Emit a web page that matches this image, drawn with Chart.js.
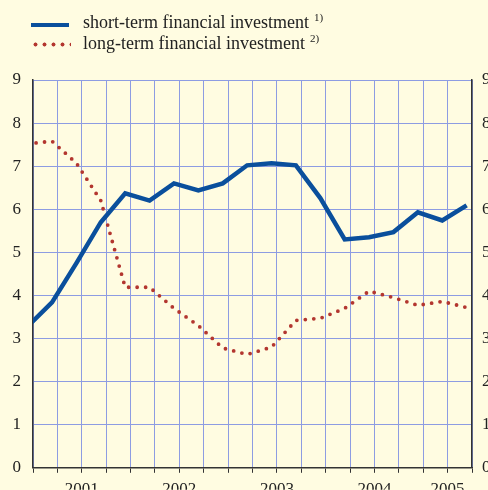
<!DOCTYPE html>
<html>
<head>
<meta charset="utf-8">
<script src="https://cdn.jsdelivr.net/npm/chart.js@4/dist/chart.umd.min.js"></script>
<style>
  html, body { margin: 0; padding: 0; background: #fffce1; }
  #wrap { position: relative; width: 488px; height: 490px; overflow: hidden; }
  #legend { position: absolute; left: 0; top: 0; font-family: "Liberation Serif", serif; font-size: 18px; color: #222; }
  .item { position: absolute; left: 31px; white-space: nowrap; }
  .item span.txt { position: absolute; left: 52px; top: -10px; }
  .item sup { font-size: 11px; vertical-align: 7px; margin-left: 5px; }
  .solid { width: 38px; height: 4px; background: #0a4f9c; }
  .dots { width: 40px; height: 5px; background: radial-gradient(circle, #b3362f 1.7px, transparent 2.3px) repeat-x; background-size: 9px 5px; }
</style>
</head>
<body>
<div id="wrap">
  <canvas id="myChart" width="488" height="490"></canvas>
  <div id="legend">
    <div class="item" style="top:23px"><div class="solid"></div><span class="txt" style="top:-12px">short-term financial investment<sup>1)</sup></span></div>
    <div class="item" style="top:42px"><div class="dots"></div><span class="txt">long-term financial investment<sup>2)</sup></span></div>
  </div>
</div>
<script>
// Quarterly values, first point sits just left of the axis
const shortTerm = [3.28, 3.84, 4.75, 5.7, 6.37, 6.2, 6.6, 6.44, 6.6, 7.02, 7.07, 7.02, 6.26, 5.3, 5.35, 5.47, 5.93, 5.74, 6.09];
const longTerm = [7.52, 7.58, 7.07, 6.2, 4.19, 4.19, 3.7, 3.3, 2.78, 2.63, 2.8, 3.42, 3.47, 3.7, 4.1, 3.95, 3.77, 3.86, 3.72];
const years = ['2001', '2002', '2003', '2004', '2005'];
const yearCenters = [2, 6, 10, 14, 17];   // in quarter-grid units
const yTicks = [0, 1, 2, 3, 4, 5, 6, 7, 8, 9];

// grid lines start a bit after the first data point
const gridStart = 0.22;
const quarterLines = 18;

const serif = "'Liberation Serif', 'Times New Roman', serif";
const gridBlue = '#8d9ce2';
const axisDark = '#333333';

const toPoints = (arr) => arr.map((v, i) => ({ x: i, y: v }));

const ctx = document.getElementById('myChart').getContext('2d');
const myChart = new Chart(ctx, {
  type: 'line',
  data: {
    datasets: [{
      label: 'short-term financial investment',
      data: toPoints(shortTerm),
      borderColor: '#0a4f9c',
      borderWidth: 4.5,
      pointRadius: 0,
      tension: 0,
      borderJoinStyle: 'miter'
    }, {
      label: 'long-term financial investment',
      data: toPoints(longTerm),
      borderColor: '#b3362f',
      borderWidth: 3.8,
      borderDash: [0, 8.5],
      borderCapStyle: 'round',
      pointRadius: 0,
      tension: 0
    }]
  },
  options: {
    responsive: false,
    animation: false,
    layout: { padding: { top: 80, left: 0, right: 0, bottom: 0 } },
    plugins: { legend: { display: false }, tooltip: { enabled: false } },
    scales: {
      x: {
        type: 'linear',
        position: 'bottom',
        weight: 0,
        min: gridStart,
        max: gridStart + quarterLines,
        afterBuildTicks: (scale) => {
          let t = [];
          for (let k = 0; k <= quarterLines; k++) t.push({ value: gridStart + k });
          scale.ticks = t;
        },
        afterFit: (scale) => { scale.height = 5; },
        grid: { color: gridBlue, lineWidth: 1, tickLength: 5, tickColor: axisDark, drawTicks: true },
        border: { display: true, color: axisDark, width: 1.5 },
        ticks: { display: false }
      },
      years: {
        type: 'linear',
        position: 'bottom',
        weight: 1,
        min: gridStart,
        max: gridStart + quarterLines,
        afterBuildTicks: (scale) => {
          scale.ticks = yearCenters.map((c) => ({ value: gridStart + c }));
        },
        afterFit: (scale) => { scale.height = 17; },
        grid: { display: false, drawTicks: false },
        border: { display: false },
        ticks: {
          autoSkip: false,
          maxRotation: 0,
          padding: 7,
          color: '#222',
          font: { family: serif, size: 17 },
          callback: (v, i) => years[i]
        }
      },
      y: {
        position: 'left',
        min: 0,
        max: 9,
        afterBuildTicks: (scale) => { scale.ticks = yTicks.map((v) => ({ value: v })); },
        afterFit: (scale) => { scale.width = 33; },
        grid: { color: gridBlue, lineWidth: 1, drawTicks: false },
        border: { display: true, color: axisDark, width: 1.5 },
        ticks: { padding: 12, color: '#222', font: { family: serif, size: 17 } }
      },
      y2: {
        position: 'right',
        min: 0,
        max: 9,
        afterBuildTicks: (scale) => { scale.ticks = yTicks.map((v) => ({ value: v })); },
        afterFit: (scale) => { scale.width = 16; },
        grid: { display: false, drawTicks: false },
        border: { display: true, color: axisDark, width: 1.5 },
        ticks: { padding: 10, color: '#222', font: { family: serif, size: 17 } }
      }
    }
  }
});
</script>
</body>
</html>
